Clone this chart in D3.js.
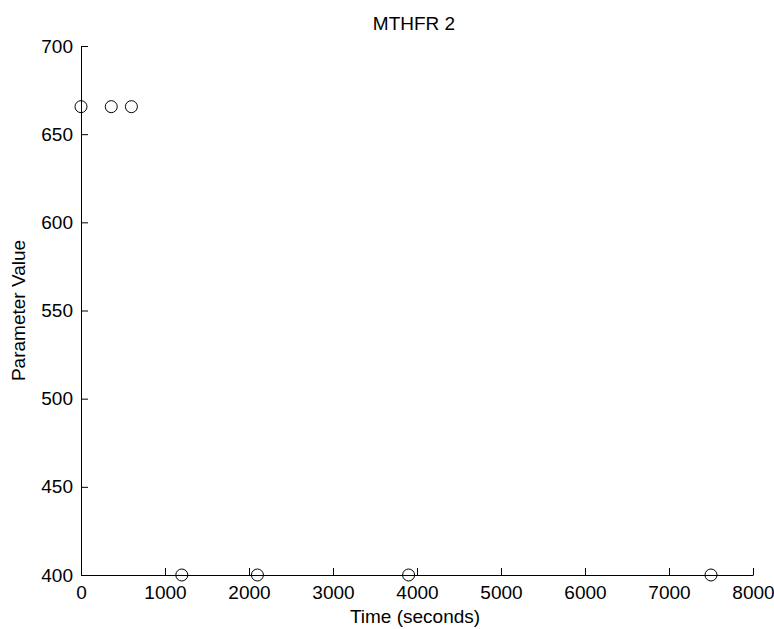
<!DOCTYPE html>
<html>
<head>
<meta charset="utf-8">
<script src="https://cdn.jsdelivr.net/npm/d3@7"></script>
<style>
  html, body { margin: 0; padding: 0; background: #fff; }
  svg { display: block; }
  text { font-family: "Liberation Sans", Arial, sans-serif; fill: #000; }
</style>
</head>
<body>
<svg id="chart" width="774" height="629"></svg>
<script>
const title = "MTHFR 2";
const xLabel = "Time (seconds)";
const yLabel = "Parameter Value";
const times = [0, 360, 600, 1200, 2100, 3900, 7500];
const values = [665.6, 665.6, 665.6, 400, 400, 400, 400];
const xTicks = [0, 1000, 2000, 3000, 4000, 5000, 6000, 7000, 8000];
const yTicks = [400, 450, 500, 550, 600, 650, 700];

(function () {
  const svg = d3.select("#chart");
  const mLeft = 81, mRight = 753, mTop = 46, mBottom = 575;
  const fs = 19;

  const x = d3.scaleLinear().domain([0, 8000]).range([mLeft, mRight]);
  const y = d3.scaleLinear().domain([400, 700]).range([mBottom, mTop]);

  const gx = svg.append("g").attr("transform", `translate(0,${mBottom})`)
    .call(d3.axisBottom(x).tickValues(xTicks).tickFormat(d3.format("d"))
      .tickSize(-7).tickSizeOuter(0).tickPadding(11));
  const gy = svg.append("g").attr("transform", `translate(${mLeft},0)`)
    .call(d3.axisLeft(y).tickValues(yTicks).tickFormat(d3.format("d"))
      .tickSize(-7).tickSizeOuter(0).tickPadding(8));

  [gx, gy].forEach(g => {
    g.selectAll("path.domain").attr("stroke", "#000").attr("stroke-width", 1);
    g.selectAll(".tick line").attr("stroke", "#000").attr("stroke-width", 1);
    g.selectAll(".tick text").attr("font-size", fs).attr("font-family", "Liberation Sans, Arial, sans-serif").attr("fill", "#000");
  });

  svg.append("g").selectAll("circle")
    .data(times.map((t, i) => ({t, v: values[i]})))
    .join("circle")
    .attr("cx", d => x(d.t))
    .attr("cy", d => y(d.v))
    .attr("r", 6)
    .attr("fill", "none")
    .attr("stroke", "#000")
    .attr("stroke-width", 1);

  svg.append("text")
    .attr("x", 414).attr("y", 30)
    .attr("text-anchor", "middle")
    .attr("font-size", fs)
    .text(title);

  svg.append("text")
    .attr("x", 415).attr("y", 623)
    .attr("text-anchor", "middle")
    .attr("font-size", fs)
    .text(xLabel);

  svg.append("text")
    .attr("transform", `translate(25,${(mTop + mBottom) / 2}) rotate(-90)`)
    .attr("text-anchor", "middle")
    .attr("font-size", fs)
    .text(yLabel);
})();
</script>
</body>
</html>
